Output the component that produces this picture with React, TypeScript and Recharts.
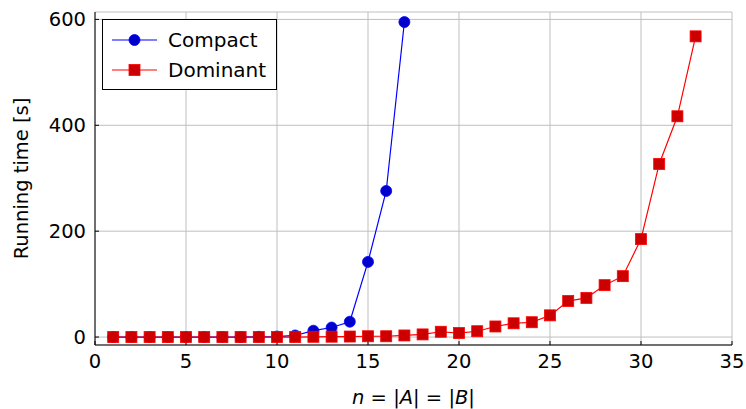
import React from "react";
import {
    LineChart,
    Line,
    XAxis,
    YAxis,
    CartesianGrid,
    Label,
} from "recharts";

const sizes = [
    1, 2, 3, 4, 5, 6, 7, 8, 9, 10, 11, 12, 13, 14, 15, 16, 17, 18, 19, 20, 21,
    22, 23, 24, 25, 26, 27, 28, 29, 30, 31, 32, 33,
];
const compact = [
    0, 0, 0, 0, 0, 0, 0, 0, 0.5, 1, 3, 12, 18, 29, 142, 276, 595,
];
const dominant = [
    0, 0, 0, 0, 0, 0, 0, 0, 0, 0, 0, 0.5, 0.7, 1, 1.5, 1.5, 3, 5, 10, 7.5, 11,
    20, 26, 28, 41, 68, 74, 98, 115, 185, 327, 417, 568,
];
const xTicks = [0, 5, 10, 15, 20, 25, 30, 35];
const yTicks = [0, 200, 400, 600];

const data = sizes.map((n, i) => ({
    n,
    compact: i < compact.length ? compact[i] : null,
    dominant: dominant[i],
}));

const FONT = "'DejaVu Sans', sans-serif";
const BLUE = "#0000ff";
const BLUE_FILL = "#0000cc";
const RED = "#ff0000";
const RED_FILL = "#cc0000";

function SquareDot(props: any) {
    const { cx, cy } = props;
    if (cx == null || cy == null) return null;
    return (
        <rect
            x={cx - 5.5}
            y={cy - 5.5}
            width={11}
            height={11}
            fill={RED_FILL}
            stroke={RED}
            strokeWidth={0.8}
        />
    );
}

function LegendBox() {
    const rows = [
        { name: "Compact", color: BLUE, fill: BLUE_FILL, square: false },
        { name: "Dominant", color: RED, fill: RED_FILL, square: true },
    ];
    return (
        <div
            style={{
                position: "absolute",
                left: 102,
                top: 19,
                width: 175,
                height: 71,
                border: "1px solid #000",
                background: "#fff",
                boxSizing: "border-box",
                paddingTop: 5,
            }}
        >
            {rows.map((r) => (
                <div
                    key={r.name}
                    style={{
                        display: "flex",
                        alignItems: "center",
                        height: 30,
                        fontFamily: FONT,
                        fontSize: 20,
                        color: "#000",
                    }}
                >
                    <svg width={56} height={20} style={{ marginLeft: 9 }}>
                        <line x1={0} y1={10} x2={45} y2={10} stroke={r.color} strokeWidth={1.2} />
                        {r.square ? (
                            <rect x={17} y={4.5} width={11} height={11} fill={r.fill} stroke={r.color} strokeWidth={0.8} />
                        ) : (
                            <circle cx={22.5} cy={10} r={5.5} fill={r.fill} stroke={r.color} strokeWidth={0.8} />
                        )}
                    </svg>
                    <span>{r.name}</span>
                </div>
            ))}
        </div>
    );
}

export default function App() {
    return (
        <div style={{ position: "absolute", left: 0, top: 0, background: "#fff" }}>
            <LineChart
                width={746}
                height={409}
                data={data}
                margin={{ top: 12, right: 14, left: 0, bottom: 0 }}
            >
                <CartesianGrid stroke="#bfbfbf" strokeWidth={1} />
                <XAxis
                    dataKey="n"
                    type="number"
                    domain={[0, 35]}
                    ticks={xTicks}
                    height={64}
                    stroke="#000"
                    tickSize={-4}
                    tickMargin={13}
                    tick={{ fontFamily: FONT, fontSize: 19.5, fill: "#000" }}
                >
                    <Label
                        content={(p: any) => {
                            const vb = p.viewBox;
                            return (
                                <text
                                    x={vb.x + vb.width / 2}
                                    y={vb.y + 59}
                                    textAnchor="middle"
                                    fontFamily={FONT}
                                    fontSize={19.5}
                                    fill="#000"
                                >
                                    <tspan fontStyle="italic">n</tspan>
                                    <tspan> = |</tspan>
                                    <tspan fontStyle="italic">A</tspan>
                                    <tspan>| = |</tspan>
                                    <tspan fontStyle="italic">B</tspan>
                                    <tspan>|</tspan>
                                </text>
                            );
                        }}
                    />
                </XAxis>
                <XAxis
                    xAxisId="top"
                    orientation="top"
                    type="number"
                    domain={[0, 35]}
                    ticks={xTicks}
                    height={0}
                    stroke="#000"
                    tick={false}
                    tickLine={false}
                />
                <YAxis
                    type="number"
                    domain={[-15, 614]}
                    ticks={yTicks}
                    width={95}
                    stroke="#000"
                    tickSize={-4}
                    tickMargin={13}
                    allowDataOverflow
                    tick={{ fontFamily: FONT, fontSize: 19.5, fill: "#000" }}
                >
                    <Label
                        content={(p: any) => {
                            const vb = p.viewBox;
                            const cy = vb.y + vb.height / 2;
                            return (
                                <text
                                    x={28}
                                    y={cy}
                                    transform={`rotate(-90, 28, ${cy})`}
                                    textAnchor="middle"
                                    fontFamily={FONT}
                                    fontSize={19.5}
                                    fill="#000"
                                >
                                    Running time [s]
                                </text>
                            );
                        }}
                    />
                </YAxis>
                <YAxis
                    yAxisId="right"
                    orientation="right"
                    type="number"
                    domain={[-15, 614]}
                    width={0}
                    stroke="#000"
                    tick={false}
                    tickLine={false}
                />
                <Line
                    dataKey="compact"
                    stroke={BLUE}
                    strokeWidth={1.2}
                    dot={{ r: 5.5, fill: BLUE_FILL, stroke: BLUE, strokeWidth: 0.8 }}
                    activeDot={false}
                    connectNulls={false}
                    isAnimationActive={false}
                />
                <Line
                    dataKey="dominant"
                    stroke={RED}
                    strokeWidth={1.2}
                    dot={<SquareDot />}
                    activeDot={false}
                    isAnimationActive={false}
                />
            </LineChart>
            <LegendBox />
        </div>
    );
}
